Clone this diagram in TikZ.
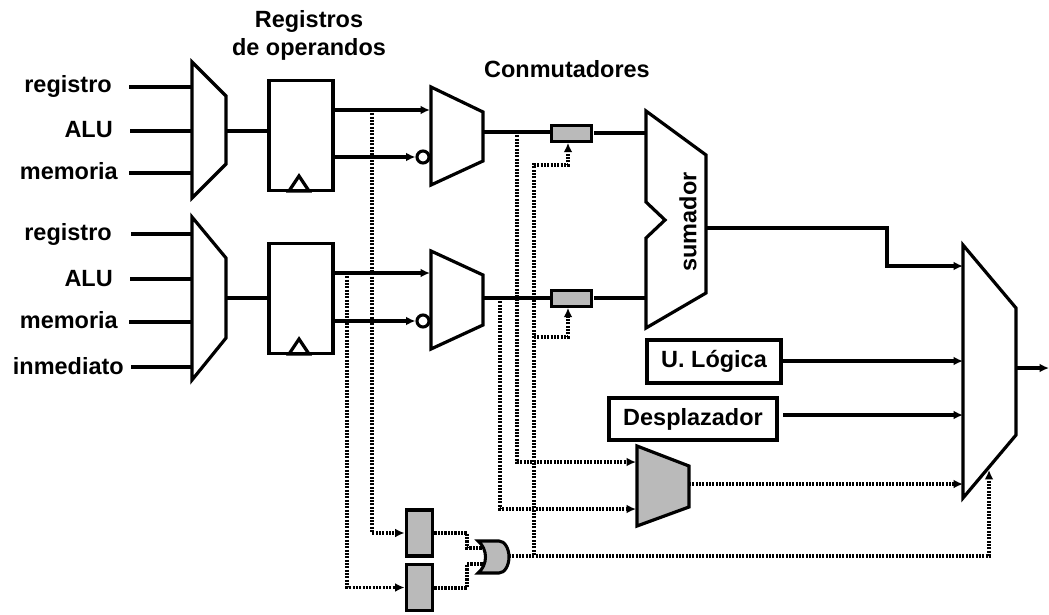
\documentclass[tikz,border=0pt]{standalone}
\usepackage{fontspec}
\usepackage{tikz}
\usetikzlibrary{arrows.meta}
\setmainfont{Liberation Sans}
\newcommand{\labelfont}{\fontsize{17.6}{20}\selectfont\bfseries}
\begin{document}
\begin{tikzpicture}[x=0.75pt,y=-0.75pt,>={Latex[length=7pt,width=6.5pt]},
    outline/.style={draw, line width=2.4pt, line join=miter},
    wire/.style={line width=2.3pt},
    dotwire/.style={line width=2.3pt, dash pattern=on 1.6pt off 0.9pt},
    reg/.style={rectangle, draw, line width=2.4pt, minimum width=48pt, inner sep=0pt},
    swbox/.style={rectangle, draw, line width=2.4pt, fill=black!27, minimum width=29.5pt, minimum height=11.5pt, inner sep=0pt},
    flagbox/.style={rectangle, draw, line width=2.4pt, fill=black!27, minimum width=20pt, inner sep=0pt},
    unit/.style={rectangle, draw, line width=2.6pt, inner sep=0pt, font=\labelfont},
    inlabel/.style={anchor=east, inner ysep=0pt, inner xsep=#1, font=\labelfont},
    inv/.style={circle, draw, line width=2.3pt, fill=white, minimum size=9pt, inner sep=0pt},
    title/.style={font=\labelfont, inner sep=0pt}]
    \useasboundingbox (0,0) rectangle (1049,614);

    % Titles
    \node[title] (tregs) at (309,21) {Registros};
    \node[title] (tops) at (309,49) {de operandos};
    \node[title] (tsw) at (567,69) {Conmutadores};

    % Input selectors
    \draw[outline] (192,62) -- (226,96) -- (226,164) -- (192,198) -- cycle;
    \draw[outline] (192,217) -- (226,258) -- (226,338) -- (192,380) -- cycle;
    \coordinate (sel1a) at (192,87);
    \coordinate (sel1b) at (192,131);
    \coordinate (sel1c) at (192,173);
    \coordinate (sel1out) at (226,131);
    \coordinate (sel2a) at (192,234);
    \coordinate (sel2b) at (192,279);
    \coordinate (sel2c) at (192,322);
    \coordinate (sel2d) at (192,367);
    \coordinate (sel2out) at (226,298);

    % Input labels
    \node[inlabel=12.75pt] (ina1) at (129,87) {\strut registro};
    \node[inlabel=12.75pt] (inb1) at (130,132) {\strut ALU};
    \node[inlabel=8.25pt] (inc1) at (129,174) {\strut memoria};
    \node[inlabel=14.25pt] (ina2) at (131,235) {\strut registro};
    \node[inlabel=12.75pt] (inb2) at (130,281) {\strut ALU};
    \node[inlabel=8.25pt] (inc2) at (129,323) {\strut memoria};
    \node[inlabel=5.25pt] (ind2) at (131,369) {\strut inmediato};

    \draw[wire] (ina1.east |- sel1a) -- (sel1a);
    \draw[wire] (inb1.east |- sel1b) -- (sel1b);
    \draw[wire] (inc1.east |- sel1c) -- (sel1c);
    \draw[wire] (ina2.east |- sel2a) -- (sel2a);
    \draw[wire] (inb2.east |- sel2b) -- (sel2b);
    \draw[wire] (inc2.east |- sel2c) -- (sel2c);
    \draw[wire] (ind2.east |- sel2d) -- (sel2d);

    % Operand registers
    \node[reg, minimum height=83pt] (reg1) at (301,135.5) {};
    \node[reg, minimum height=83pt] (reg2) at (301,298.5) {};
    \draw[outline] (289,191) -- (299,176) -- (309,191) -- cycle;
    \draw[outline] (289,354) -- (299,339) -- (309,354) -- cycle;
    \draw[wire] (sel1out) -- (reg1.west |- sel1out);
    \draw[wire] (sel2out) -- (reg2.west |- sel2out);

    % Operand selectors
    \draw[outline] (431,87) -- (483,112) -- (483,161) -- (431,185) -- cycle;
    \draw[outline] (431,251) -- (483,275) -- (483,325) -- (431,349) -- cycle;
    \coordinate (op1a) at (430,110);
    \coordinate (op1out) at (483,132);
    \coordinate (op2a) at (430,273);
    \coordinate (op2out) at (483,298);
    \node[inv] (inv1) at (423,157) {};
    \node[inv] (inv2) at (423,321) {};

    \draw[wire,->] (reg1.east |- op1a) -- (op1a);
    \draw[wire,->] (reg1.east |- inv1) -- (inv1);
    \draw[wire,->] (reg2.east |- op2a) -- (op2a);
    \draw[wire,->] (reg2.east |- inv2) -- (inv2);

    % Switches
    \node[swbox] (sw1) at (571.5,133.5) {};
    \node[swbox] (sw2) at (571.5,298.5) {};
    \draw[wire] (op1out) -- (sw1.west |- op1out);
    \draw[wire] (op2out) -- (sw2.west |- op2out);

    % Adder
    \draw[outline] (646,111) -- (706,155) -- (706,293) -- (646,328) -- (646,238)
        -- (665,220) -- (646,202) -- cycle;
    \node[title, rotate=90] (sumador) at (688,222) {sumador};
    \coordinate (add1) at (646,133);
    \coordinate (add2) at (646,298);
    \coordinate (addout) at (706,228);
    \draw[wire] (sw1.east |- add1) ++(1.5,0) -- (add1);
    \draw[wire] (sw2.east |- add2) ++(1.5,0) -- (add2);

    % Output selector
    \draw[outline] (963,245) -- (1016,308) -- (1016,435) -- (963,498) -- cycle;
    \coordinate (res1) at (963,266);
    \coordinate (res2) at (963,361);
    \coordinate (res3) at (963,415);
    \coordinate (res4) at (963,484);
    \coordinate (res5) at (989,470);
    \coordinate (resout) at (1016,368);
    \coordinate (exit) at (1049,368);
    \draw[wire,->] (resout) -- (exit);
    \draw[wire,->] (addout) -| (887,266) -- (res1);

    % Logic unit and shifter
    \node[unit, minimum width=100.5pt, minimum height=32pt] (logica) at (714,361.5) {U. Lógica};
    \node[unit, minimum width=126pt, minimum height=31.5pt] (despl) at (693,419) {Desplazador};
    \draw[wire,->] (logica.east |- res2) -- (res2);
    \draw[wire,->] (783,415) -- (res3);

    % Grey selector
    \draw[outline, fill=black!27] (637,446) -- (689,466) -- (689,507) -- (637,526) -- cycle;
    \coordinate (cmp1) at (636,462);
    \coordinate (cmp2) at (636,509);
    \coordinate (cmpout) at (689,484);
    \draw[dotwire,->] (cmpout) -- (res4);

    % Flag registers
    \node[flagbox, minimum height=34.5pt] (flag1) at (419.5,533) {};
    \node[flagbox, minimum height=34.5pt] (flag2) at (419.5,587.5) {};

    % Gate
    \draw[outline, line width=2.3pt, fill=black!27] (478,541) -- (499,541)
        .. controls (505,541) and (509,549) .. (509,557)
        .. controls (509,565) and (505,573) .. (499,573) -- (478,573)
        .. controls (488,565) and (488,549) .. (478,541) -- cycle;
    \coordinate (gatea) at (484,548);
    \coordinate (gateb) at (484,564);
    \coordinate (gateout) at (509,556);

    % Dotted lines
    \coordinate (tap1) at (372,110);
    \coordinate (tap2) at (347,273);
    \coordinate (tap3) at (517,132);
    \coordinate (tap4) at (500,298);
    \coordinate (tap5) at (534,555);
    \draw[dotwire,->] (tap1) |- (flag1);
    \draw[dotwire,->] (tap2) |- (flag2);
    \draw[dotwire,->] (tap3) |- (cmp1);
    \draw[dotwire,->] (tap4) |- (cmp2);
    \draw[dotwire] (flag1.east |- 0,533) -- (467,533) |- (gatea);
    \draw[dotwire] (flag2.east |- 0,588) -- (467,588) |- (gateb);
    \draw[dotwire,->] (gateout) -| (res5);
    \draw[dotwire,->] (tap5) |- (568,165) -- (sw1.south -| 568,0);
    \draw[dotwire,->] (534,337) -- (568,337) -- (sw2.south -| 568,0);
\end{tikzpicture}
\end{document}
